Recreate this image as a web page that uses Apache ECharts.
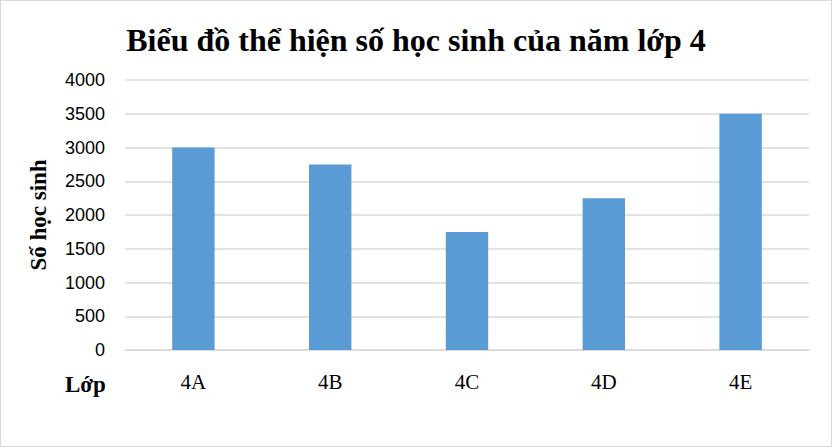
<!DOCTYPE html>
<html>
<head>
<meta charset="utf-8">
<script src="https://cdn.jsdelivr.net/npm/echarts@6/dist/echarts.min.js"></script>
<style>
  html, body { margin: 0; padding: 0; background: #fff; }
  #chart { width: 830px; height: 445px; border: 1px solid #d9d9d9; }
</style>
</head>
<body>
<div id="chart"></div>
<script>
var classes = ['4A', '4B', '4C', '4D', '4E'];
var students = [3000, 2750, 1750, 2250, 3500];
var yTicks = [0, 500, 1000, 1500, 2000, 2500, 3000, 3500, 4000];

var serif = '"Liberation Serif", "DejaVu Serif", serif';
var chart = echarts.init(document.getElementById('chart'), null, { renderer: 'svg' });
chart.setOption({
  animation: false,
  title: {
    text: 'Biểu đồ thể hiện số học sinh của năm lớp 4',
    left: 'center',
    top: 18,
    textStyle: { fontFamily: serif, fontSize: 32, fontWeight: 'bold', color: '#000' }
  },
  grid: { left: 124, right: 22, top: 79, bottom: 96 },
  xAxis: {
    type: 'category',
    data: classes,
    axisLine: { lineStyle: { color: '#d9d9d9', width: 1.5 } },
    axisTick: { show: false },
    axisLabel: { color: '#000', fontFamily: serif, fontSize: 21, margin: 21 }
  },
  yAxis: {
    type: 'value',
    min: yTicks[0],
    max: yTicks[yTicks.length - 1],
    interval: yTicks[1] - yTicks[0],
    name: 'Số học sinh',
    nameLocation: 'middle',
    nameGap: 75,
    nameTextStyle: { fontFamily: serif, fontSize: 23, fontWeight: 'bold', color: '#000' },
    axisLine: { show: false },
    axisTick: { show: false },
    splitLine: { lineStyle: { color: '#d9d9d9', width: 1.5 } },
    axisLabel: {
      color: '#000',
      fontFamily: '"Liberation Sans", Arial, sans-serif',
      fontSize: 18,
      margin: 20,
      formatter: function(v) { return String(v); }
    }
  },
  graphic: [{
    type: 'text',
    left: 64,
    top: 372,
    style: { text: 'Lớp', fontFamily: serif, fontSize: 23, fontWeight: 'bold', fill: '#000' }
  }],
  series: [{
    type: 'bar',
    data: students,
    barWidth: '31%',
    itemStyle: { color: '#5b9bd5' }
  }]
});
</script>
</body>
</html>
